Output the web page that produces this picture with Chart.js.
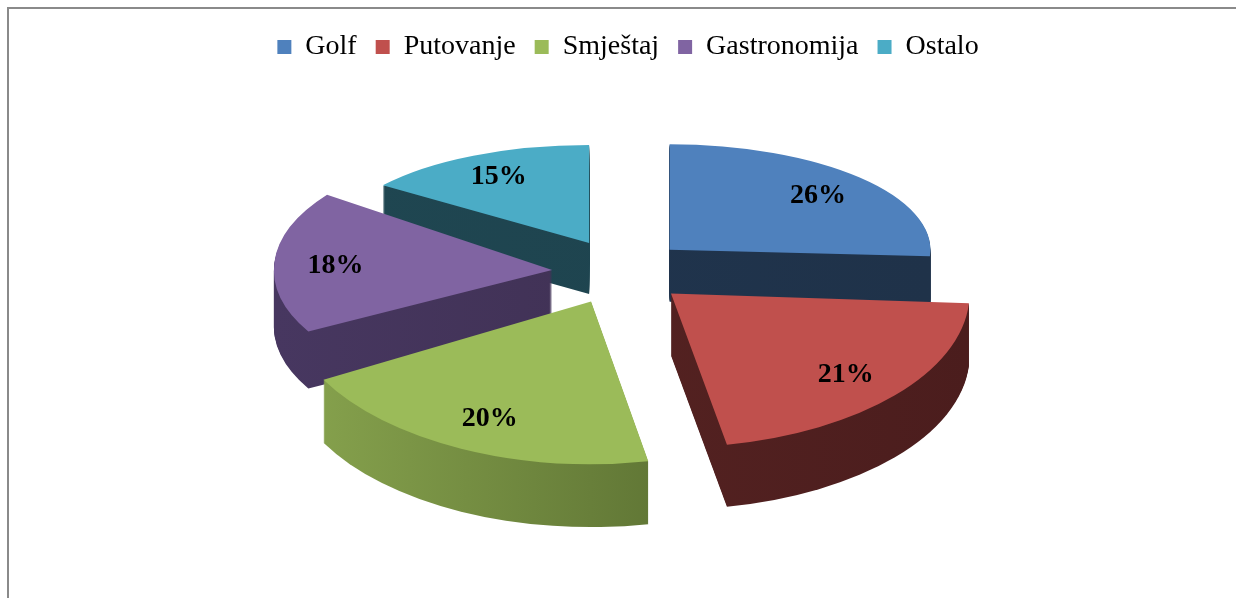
<!DOCTYPE html>
<html>
<head>
<meta charset="utf-8">
<script src="https://cdn.jsdelivr.net/npm/chart.js@4.4.0/dist/chart.umd.min.js"></script>
<style>
html, body { margin: 0; padding: 0; background: #fff; }
#wrap { position: relative; width: 1236px; height: 598px; overflow: hidden; }
#frame { position: absolute; left: 7px; top: 7px; width: 1300px; height: 700px; border-left: 2px solid #8a8a8a; border-top: 2px solid #8a8a8a; }
canvas { position: absolute; left: 0; top: 0; }
</style>
</head>
<body>
<div id="wrap">
    <div id="frame"></div>
    <canvas id="myChart" width="1236" height="598"></canvas>
</div>
<script>
// data
const categories = ['Golf', 'Putovanje', 'Smještaj', 'Gastronomija', 'Ostalo'];
const shares = [26, 21, 20, 18, 15];

// top face colours and side (extrusion) colours, light -> dark
const topColors = ['#4f81bd', '#c0504d', '#9bbb59', '#8064a2', '#4bacc6'];
const sideColors = [
    ['#20354f', '#1f3249'],
    ['#5a2524', '#4b1d1d'],
    ['#88a44e', '#485a26'],
    ['#473760', '#3c2e4e'],
    ['#1f4651', '#1e434e']
];

// where the tilted pie sits on the page
const view = { x: 620, y: 272, tilt: 0.48, explode: 68 };

// fake 3D: tilt every slice, grow the front ones a bit (perspective), extrude it
const pie3d = {
    id: 'pie3d',
    beforeDatasetsDraw(chart) {
        const ctx = chart.ctx;
        const meta = chart.getDatasetMeta(0);

        let slices = meta.data.map(function (el, i) {
            const p = el.getProps(['x', 'y', 'startAngle', 'endAngle', 'outerRadius'], true);
            const mid = (p.startAngle + p.endAngle) / 2;
            const front = Math.sin(mid);
            return {
                el: el, i: i, p: p, mid: mid,
                ax: Math.cos(mid) * view.explode,
                ay: Math.sin(mid) * view.explode * view.tilt,
                sx: (280 + 28 * front) / p.outerRadius,
                sy: (130 + 36 * front) / p.outerRadius,
                depth: 57 + 7 * front
            };
        });
        // back slices first
        slices.sort(function (a, b) { return a.ay - b.ay; });

        function place(s, drop) {
            ctx.translate(view.x + s.ax, view.y + s.ay + drop);
            ctx.scale(s.sx, s.sy);
            ctx.translate(-s.p.x, -s.p.y);
        }

        // sides
        slices.forEach(function (s) {
            const cx = s.p.x, cy = s.p.y, R = s.p.outerRadius;
            const grad = ctx.createLinearGradient(cx - R, 0, cx + R, 0);
            grad.addColorStop(0, sideColors[s.i][0]);
            grad.addColorStop(1, sideColors[s.i][1]);
            for (let t = Math.round(s.depth); t >= 1; t--) {
                ctx.save();
                place(s, t);
                ctx.beginPath();
                ctx.moveTo(cx, cy);
                ctx.arc(cx, cy, R, s.p.startAngle, s.p.endAngle);
                ctx.closePath();
                ctx.fillStyle = grad;
                ctx.fill();
                ctx.restore();
            }
        });

        // tops, drawn by the arc elements themselves
        slices.forEach(function (s) {
            ctx.save();
            place(s, 0);
            s.el.draw(ctx);
            ctx.restore();
        });

        // percentage labels
        ctx.save();
        ctx.font = "bold 28px 'Liberation Serif', 'Times New Roman', serif";
        ctx.fillStyle = '#000';
        ctx.textAlign = 'center';
        ctx.textBaseline = 'middle';
        slices.forEach(function (s) {
            const d = s.p.outerRadius * 0.78;
            const lx = view.x + s.ax + s.sx * Math.cos(s.mid) * d;
            const ly = view.y + s.ay + s.sy * Math.sin(s.mid) * d;
            ctx.fillText(shares[s.i] + '%', lx, ly + 2);
        });
        ctx.restore();

        return false;
    }
};

new Chart('myChart', {
    type: 'pie',
    data: {
        labels: categories,
        datasets: [{
            data: shares,
            backgroundColor: topColors,
            borderWidth: 0,
            clip: false
        }]
    },
    options: {
        responsive: false,
        devicePixelRatio: 1,
        animation: false,
        radius: 270,
        layout: { padding: { top: 14, left: 20 } },
        plugins: {
            legend: {
                position: 'top',
                labels: {
                    boxWidth: 14,
                    boxHeight: 14,
                    padding: 19,
                    color: '#000',
                    font: { family: "'Liberation Serif', 'Times New Roman', serif", size: 28 }
                }
            },
            tooltip: { enabled: false }
        }
    },
    plugins: [pie3d]
});
</script>
</body>
</html>
